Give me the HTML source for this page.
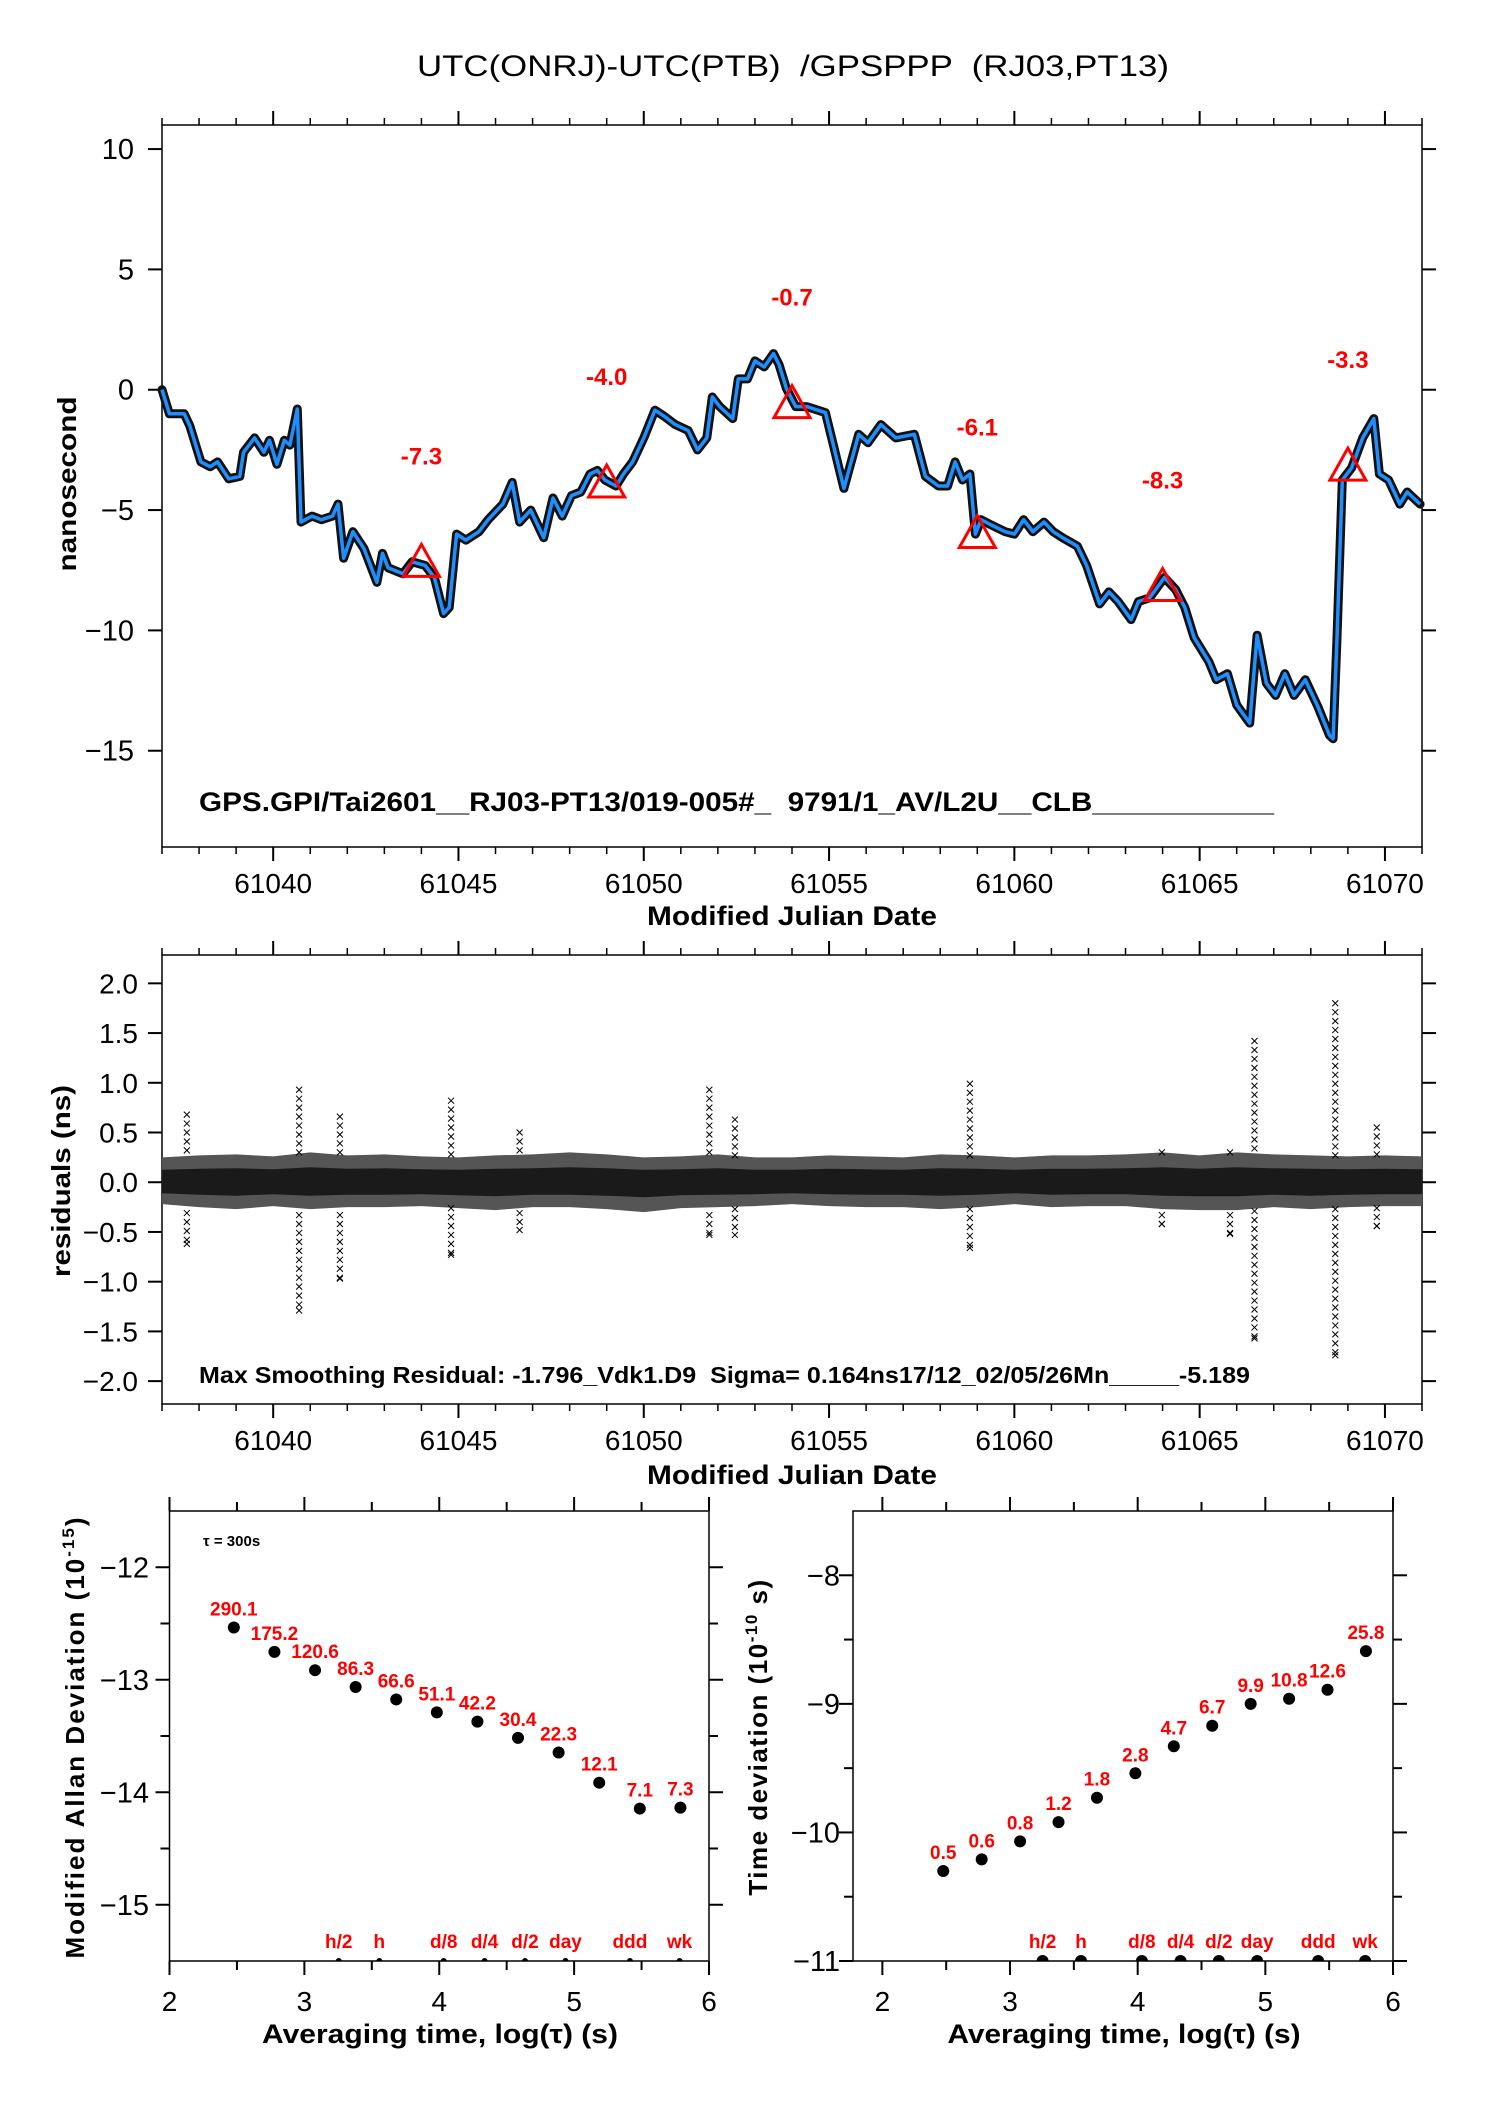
<!DOCTYPE html>
<html><head><meta charset="utf-8"><title>UTC(ONRJ)-UTC(PTB)</title>
<style>
html,body{margin:0;padding:0;background:#fff;}
svg{display:block;font-family:"Liberation Sans",Arial,sans-serif;}
svg text{white-space:pre;}
</style></head>
<body>
<svg id="chart" width="1488" height="2105" viewBox="0 0 1488 2105" xmlns="http://www.w3.org/2000/svg">
<rect width="1488" height="2105" fill="#fff"/>
<text x="793" y="76" font-size="30" text-anchor="middle" textLength="752" lengthAdjust="spacingAndGlyphs">UTC(ONRJ)-UTC(PTB)  /GPSPPP  (RJ03,PT13)</text>

<g id="topPanel">
<rect x="162" y="125" width="1260" height="722" fill="none" stroke="#000" stroke-width="1.5"/>
<text x="792" y="925" font-size="27" font-weight="bold" text-anchor="middle" textLength="290" lengthAdjust="spacingAndGlyphs">Modified Julian Date</text>
<text transform="translate(76,484) rotate(-90)" font-size="26" font-weight="bold" text-anchor="middle" textLength="175" lengthAdjust="spacingAndGlyphs">nanosecond</text>
<text x="199" y="811" font-size="27" font-weight="bold" textLength="1075" lengthAdjust="spacingAndGlyphs">GPS.GPI/Tai2601__RJ03-PT13/019-005#_  9791/1_AV/L2U__CLB___________</text>
</g>

<g id="midPanel">
<rect x="162" y="955" width="1260" height="449" fill="none" stroke="#000" stroke-width="1.5"/>
<text x="792" y="1484" font-size="27" font-weight="bold" text-anchor="middle" textLength="290" lengthAdjust="spacingAndGlyphs">Modified Julian Date</text>
<text transform="translate(70,1181) rotate(-90)" font-size="26" font-weight="bold" text-anchor="middle" textLength="192" lengthAdjust="spacingAndGlyphs">residuals (ns)</text>
<text x="199" y="1383" font-size="23" font-weight="bold" textLength="1051" lengthAdjust="spacingAndGlyphs">Max Smoothing Residual: -1.796_Vdk1.D9  Sigma= 0.164ns17/12_02/05/26Mn_____-5.189</text>
</g>

<g id="adevPanel">
<rect x="169.5" y="1511" width="539.5" height="450" fill="none" stroke="#000" stroke-width="1.5"/>
<text x="440" y="2043" font-size="27" font-weight="bold" text-anchor="middle" textLength="356" lengthAdjust="spacingAndGlyphs">Averaging time, log(τ) (s)</text>
<text transform="translate(84,1737) rotate(-90)" font-size="26" font-weight="bold" text-anchor="middle" letter-spacing="2">Modified Allan Deviation (10<tspan dy="-10" font-size="17">-15</tspan><tspan dy="10">)</tspan></text>
<text x="203" y="1546" font-size="15" font-weight="bold">τ = 300s</text>
</g>

<g id="tdevPanel">
<rect x="853" y="1511" width="540" height="450" fill="none" stroke="#000" stroke-width="1.5"/>
<text x="1124" y="2043" font-size="27" font-weight="bold" text-anchor="middle" textLength="353" lengthAdjust="spacingAndGlyphs">Averaging time, log(τ) (s)</text>
<text transform="translate(767,1737) rotate(-90)" font-size="26" font-weight="bold" text-anchor="middle" letter-spacing="1.5">Time deviation (10<tspan dy="-10" font-size="17">-10</tspan><tspan dy="10"> s)</tspan></text>
</g>
</svg>

<script>
// ---- top plot data ----
const curveDays = [61037.0,61037.2,61037.6,61037.75,61038.05,61038.3,61038.5,61038.8,61039.1,61039.2,61039.5,61039.75,61039.9,61040.1,61040.3,61040.45,61040.65,61040.75,61041.05,61041.3,61041.6,61041.75,61041.9,61042.15,61042.45,61042.8,61042.95,61043.1,61043.5,61043.75,61044.1,61044.35,61044.6,61044.75,61044.95,61045.2,61045.55,61045.8,61046.2,61046.45,61046.65,61046.95,61047.3,61047.55,61047.8,61048.05,61048.3,61048.55,61048.75,61048.95,61049.25,61049.45,61049.7,61050.0,61050.3,61050.55,61050.85,61051.2,61051.45,61051.7,61051.85,61052.05,61052.4,61052.55,61052.8,61053.0,61053.25,61053.5,61053.65,61053.85,61054.1,61054.4,61054.7,61054.9,61055.1,61055.4,61055.8,61056.05,61056.4,61056.8,61057.3,61057.6,61057.95,61058.2,61058.4,61058.6,61058.8,61058.95,61059.1,61059.35,61059.75,61060.0,61060.25,61060.5,61060.8,61061.05,61061.3,61061.7,61061.95,61062.3,61062.55,61062.8,61063.15,61063.35,61063.65,61064.05,61064.35,61064.6,61064.85,61065.25,61065.45,61065.75,61066.0,61066.35,61066.55,61066.8,61067.05,61067.3,61067.55,61067.85,61068.2,61068.5,61068.6,61068.7,61068.85,61069.1,61069.4,61069.7,61069.85,61070.1,61070.4,61070.6,61070.95];
const curveValues = [0,-1.0,-1.0,-1.5,-3.0,-3.2,-3.0,-3.7,-3.6,-2.6,-2.0,-2.6,-2.1,-3.1,-2.1,-2.3,-0.8,-5.5,-5.25,-5.4,-5.25,-4.75,-7.0,-5.9,-6.6,-8.0,-6.8,-7.4,-7.65,-7.15,-7.3,-7.8,-9.3,-9.05,-6.0,-6.25,-5.9,-5.4,-4.75,-3.85,-5.5,-5.0,-6.15,-4.5,-5.25,-4.4,-4.25,-3.5,-3.35,-3.75,-4.0,-3.5,-3.0,-2.0,-0.85,-1.1,-1.45,-1.7,-2.5,-2.0,-0.3,-0.7,-1.2,0.45,0.45,1.2,0.95,1.5,1.05,0.05,-0.7,-0.7,-0.85,-0.95,-2.2,-4.1,-1.85,-2.2,-1.45,-2.0,-1.85,-3.6,-4.0,-4.0,-3.0,-3.75,-3.5,-6.0,-5.4,-5.6,-5.9,-6.0,-5.4,-5.9,-5.5,-5.9,-6.15,-6.5,-7.3,-8.9,-8.4,-8.8,-9.55,-8.8,-8.65,-7.8,-8.3,-9.05,-10.3,-11.3,-12.05,-11.8,-13.1,-13.85,-10.2,-12.2,-12.7,-11.8,-12.7,-12.05,-13.2,-14.35,-14.5,-10.55,-3.75,-3.25,-2.0,-1.2,-3.5,-3.75,-4.75,-4.25,-4.75];
const markerDays = [61044,61049,61054,61059,61064,61069];
const markerValues = [-7.3,-4.0,-0.7,-6.1,-8.3,-3.3];
const markerLabels = ["-7.3","-4.0","-0.7","-6.1","-8.3","-3.3"];
const topYTicks = [10,5,0,-5,-10,-15];
const topYTickLabels = ["10","5","0","\u22125","\u221210","\u221215"];
const mjdLabelTicks = [61040,61045,61050,61055,61060,61065,61070];

// ---- residual data ----
const resDays = [61037,61038,61039,61040,61041,61042,61043,61044,61045,61046,61047,61048,61049,61050,61051,61052,61053,61054,61055,61056,61057,61058,61059,61060,61061,61062,61063,61064,61065,61066,61067,61068,61069,61070,61071];
const resUpper = [0.25,0.27,0.28,0.26,0.3,0.27,0.28,0.26,0.25,0.27,0.28,0.3,0.28,0.25,0.26,0.28,0.25,0.25,0.27,0.26,0.25,0.28,0.27,0.25,0.27,0.27,0.28,0.3,0.27,0.3,0.28,0.27,0.26,0.27,0.26];
const resLower = [-0.22,-0.25,-0.27,-0.24,-0.27,-0.25,-0.25,-0.24,-0.26,-0.28,-0.25,-0.25,-0.27,-0.3,-0.26,-0.25,-0.24,-0.22,-0.24,-0.25,-0.25,-0.27,-0.25,-0.22,-0.25,-0.24,-0.24,-0.27,-0.28,-0.28,-0.25,-0.27,-0.25,-0.24,-0.24];
const spikeDays = [61037.67,61040.7,61041.8,61044.8,61046.65,61051.77,61052.46,61058.8,61063.98,61065.82,61066.48,61068.66,61069.78];
const spikeMax = [0.68,0.93,0.66,0.82,0.5,0.93,0.63,0.99,0.3,0.3,1.42,1.8,0.55];
const spikeMin = [-0.62,-1.29,-0.97,-0.73,-0.48,-0.53,-0.53,-0.66,-0.42,-0.52,-1.57,-1.74,-0.44];
const resYTicks = [2.0,1.5,1.0,0.5,0.0,-0.5,-1.0,-1.5,-2.0];
const resYTickLabels = ["2.0","1.5","1.0","0.5","0.0","\u22120.5","\u22121.0","\u22121.5","\u22122.0"];

// ---- stability data ----
const logTau = [2.477,2.778,3.079,3.380,3.681,3.982,4.283,4.584,4.885,5.186,5.487,5.788];
const adevValues = [-12.536,-12.752,-12.915,-13.064,-13.175,-13.29,-13.372,-13.517,-13.647,-13.915,-14.145,-14.137];
const adevLabels = ["290.1","175.2","120.6","86.3","66.6","51.1","42.2","30.4","22.3","12.1","7.1","7.3"];
const tdevValues = [-10.30,-10.21,-10.07,-9.92,-9.73,-9.54,-9.33,-9.17,-9.0,-8.96,-8.89,-8.59];
const tdevLabels = ["0.5","0.6","0.8","1.2","1.8","2.8","4.7","6.7","9.9","10.8","12.6","25.8"];
const refLogTau = [3.255,3.556,4.033,4.336,4.636,4.936,5.414,5.782];
const refLabels = ["h/2","h","d/8","d/4","d/2","day","ddd","wk"];
const adevYTicks = [-12,-13,-14,-15];
const adevYTickLabels = ["\u221212","\u221213","\u221214","\u221215"];
const tdevYTicks = [-8,-9,-10,-11];
const tdevYTickLabels = ["\u22128","\u22129","\u221210","\u221211"];
const logXTicks = [2,3,4,5,6];

const NS = "http://www.w3.org/2000/svg";
function mk(tag, parent, attrs){
  const e = document.createElementNS(NS, tag);
  for (const k in attrs) e.setAttribute(k, attrs[k]);
  parent.appendChild(e);
  return e;
}
function lin(d0,d1,p0,p1){ return v => p0 + (v-d0)*(p1-p0)/(d1-d0); }

const tx = lin(61037, 61071, 162, 1422);
const ty = lin(11, -19, 125, 847);
const ry = lin(2.285, -2.23, 955, 1404);
const ax = lin(2, 6, 169.5, 709);
const ay = lin(-11.5, -15.5, 1511, 1961);
const bx = lin(1.77, 6, 853, 1393);
const by = lin(-7.5, -11, 1511, 1961);

const topG = document.getElementById('topPanel');
const midG = document.getElementById('midPanel');
const adevG = document.getElementById('adevPanel');
const tdevG = document.getElementById('tdevPanel');

function mjdAxis(g, yTop, yBot){
  for (let d = 61037; d <= 61071; d++){
    const x = tx(d);
    const major = d % 5 === 0;
    const L = major ? 14 : 7;
    const t1 = mk('line', g, {x1:x, x2:x, y1:yTop, y2:yTop-L, stroke:'#000','stroke-width':major?2:1.5});
    
    
    const t2 = mk('line', g, {x1:x, x2:x, y1:yBot, y2:yBot+L, stroke:'#000','stroke-width':major?2:1.5});
    
    
  }
  mjdLabelTicks.forEach(d => {
    const t = mk('text', g, {x:tx(d), y:yBot+46, 'font-size':28, 'text-anchor':'middle'});
    t.textContent = String(d);
    
    
  });
}
function yAxis(g, ticks, labels, ys, xl, xr, lx, fs){
  ticks.forEach((v,i) => {
    const y = ys(v);
    const a = mk('line', g, {x1:xl-14, x2:xl, y1:y, y2:y, stroke:'#000','stroke-width':2});
    
    
    const b = mk('line', g, {x1:xr, x2:xr+14, y1:y, y2:y, stroke:'#000','stroke-width':2});
    
    
    const t = mk('text', g, {x:lx, y:y+10, 'font-size':fs, 'text-anchor':'end'});
    t.textContent = labels[i];
    
    
  });
}

// ---- top plot ----
mjdAxis(topG, 125, 847);
yAxis(topG, topYTicks, topYTickLabels, ty, 162, 1422, 134, 29);
const pts = curveDays.map((d,i) => tx(d).toFixed(1)+','+ty(curveValues[i]).toFixed(1)).join(' ');
const band = mk('polyline', topG, {points:pts, fill:'none', stroke:'#111', 'stroke-width':9, 'stroke-linejoin':'round', 'stroke-linecap':'round'});


const smooth = mk('polyline', topG, {points:pts, fill:'none', stroke:'#1e8fff', 'stroke-width':3.5, 'stroke-linejoin':'round'});


markerDays.forEach((d,i) => {
  const x = tx(d), y = ty(markerValues[i]);
  const tri = mk('polygon', topG, {points:`${x},${y-21} ${x-18},${y+11} ${x+18},${y+11}`, fill:'none', stroke:'#ff0000', 'stroke-width':3});
  
  
  const t = mk('text', topG, {x:x, y:y-101, 'font-size':24, 'font-weight':'bold', fill:'#ff0000', 'text-anchor':'middle'});
  t.textContent = markerLabels[i];
  
  
});

// ---- residual plot ----
mjdAxis(midG, 955, 1404);
yAxis(midG, resYTicks, resYTickLabels, ry, 162, 1422, 138, 28);
function bandPoly(scale){
  const up = resDays.map((d,i)=>tx(d).toFixed(1)+','+ry(resUpper[i]*scale).toFixed(1));
  const lo = [];
  for (let i = resDays.length-1; i >= 0; i--) lo.push(tx(resDays[i]).toFixed(1)+','+ry(resLower[i]*scale).toFixed(1));
  return up.concat(lo).join(' ');
}
const ob = mk('polygon', midG, {points:bandPoly(1), fill:'#555'});


const ib = mk('polygon', midG, {points:bandPoly(0.5), fill:'#1a1a1a'});


spikeDays.forEach((d,i) => {
  const x = tx(d);
  const g = mk('g', midG, {stroke:'#000','stroke-width':1});
  
  
  const vs = [];
  for (let v = spikeMax[i]; v >= spikeMin[i]; v -= 0.09) vs.push(v);
  vs.push(spikeMin[i]);
  vs.forEach(v => {
    if (Math.abs(v) < 0.25) return;
    const y = ry(v);
    mk('path', g, {d:`M${x-3},${y-3}L${x+3},${y+3}M${x-3},${y+3}L${x+3},${y-3}`});
  });
});

// ---- stability plots ----
function logAxis(g, xs, yTop, yBot){
  for (let k = 0; k <= 8; k++){
    const v = 2 + k*0.5;
    const x = xs(v);
    const major = k % 2 === 0;
    const L = major ? 14 : 9;
    const a = mk('line', g, {x1:x, x2:x, y1:yTop, y2:yTop-L, stroke:'#000','stroke-width':2});
    
    
    const b = mk('line', g, {x1:x, x2:x, y1:yBot, y2:yBot+L, stroke:'#000','stroke-width':2});
    
    
  }
  logXTicks.forEach(v => {
    const t = mk('text', g, {x:xs(v), y:yBot+50, 'font-size':28, 'text-anchor':'middle'});
    t.textContent = String(v);
    
    
  });
}
function minorY(g, ys, lo, hi, xl, xr){
  for (let v = lo + 0.5; v < hi; v += 1){
    const y = ys(v);
    const a = mk('line', g, {x1:xl-9, x2:xl, y1:y, y2:y, stroke:'#000','stroke-width':2});
    
    
    const b = mk('line', g, {x1:xr, x2:xr+9, y1:y, y2:y, stroke:'#000','stroke-width':2});
    
    
  }
}
logAxis(adevG, ax, 1511, 1961);
yAxis(adevG, adevYTicks, adevYTickLabels, ay, 169.5, 709, 149, 29);
minorY(adevG, ay, -15.0, -11.5, 169.5, 709);
logAxis(tdevG, bx, 1511, 1961);
yAxis(tdevG, tdevYTicks, tdevYTickLabels, by, 853, 1393, 840, 29);
minorY(tdevG, by, -11, -7.5, 853, 1393);

function stabPoints(g, xs, ys, vals, labels){
  logTau.forEach((lt,i) => {
    const c = mk('circle', g, {cx:xs(lt), cy:ys(vals[i]), r:6, fill:'#000'});
    
    
    const t = mk('text', g, {x:xs(lt), y:ys(vals[i])-12, 'font-size':19, 'font-weight':'bold', fill:'#ff0000', 'text-anchor':'middle'});
    t.textContent = labels[i];
    
    
  });
}
stabPoints(adevG, ax, ay, adevValues, adevLabels);
stabPoints(tdevG, bx, by, tdevValues, tdevLabels);

function refMarks(g, xs, yAx, r){
  refLogTau.forEach((lt,i) => {
    const x = xs(lt);
    const c = mk('path', g, {d:`M${x-r},${yAx} A${r},${r} 0 0 1 ${x+r},${yAx} Z`, fill:'#000'});
    
    
    const t = mk('text', g, {x:x, y:yAx-13, 'font-size':19, 'font-weight':'bold', fill:'#ff0000', 'text-anchor':'middle'});
    t.textContent = refLabels[i];
    
    
  });
}
refMarks(adevG, ax, 1961, 3);
refMarks(tdevG, bx, 1961, 6);
</script>
</body></html>
